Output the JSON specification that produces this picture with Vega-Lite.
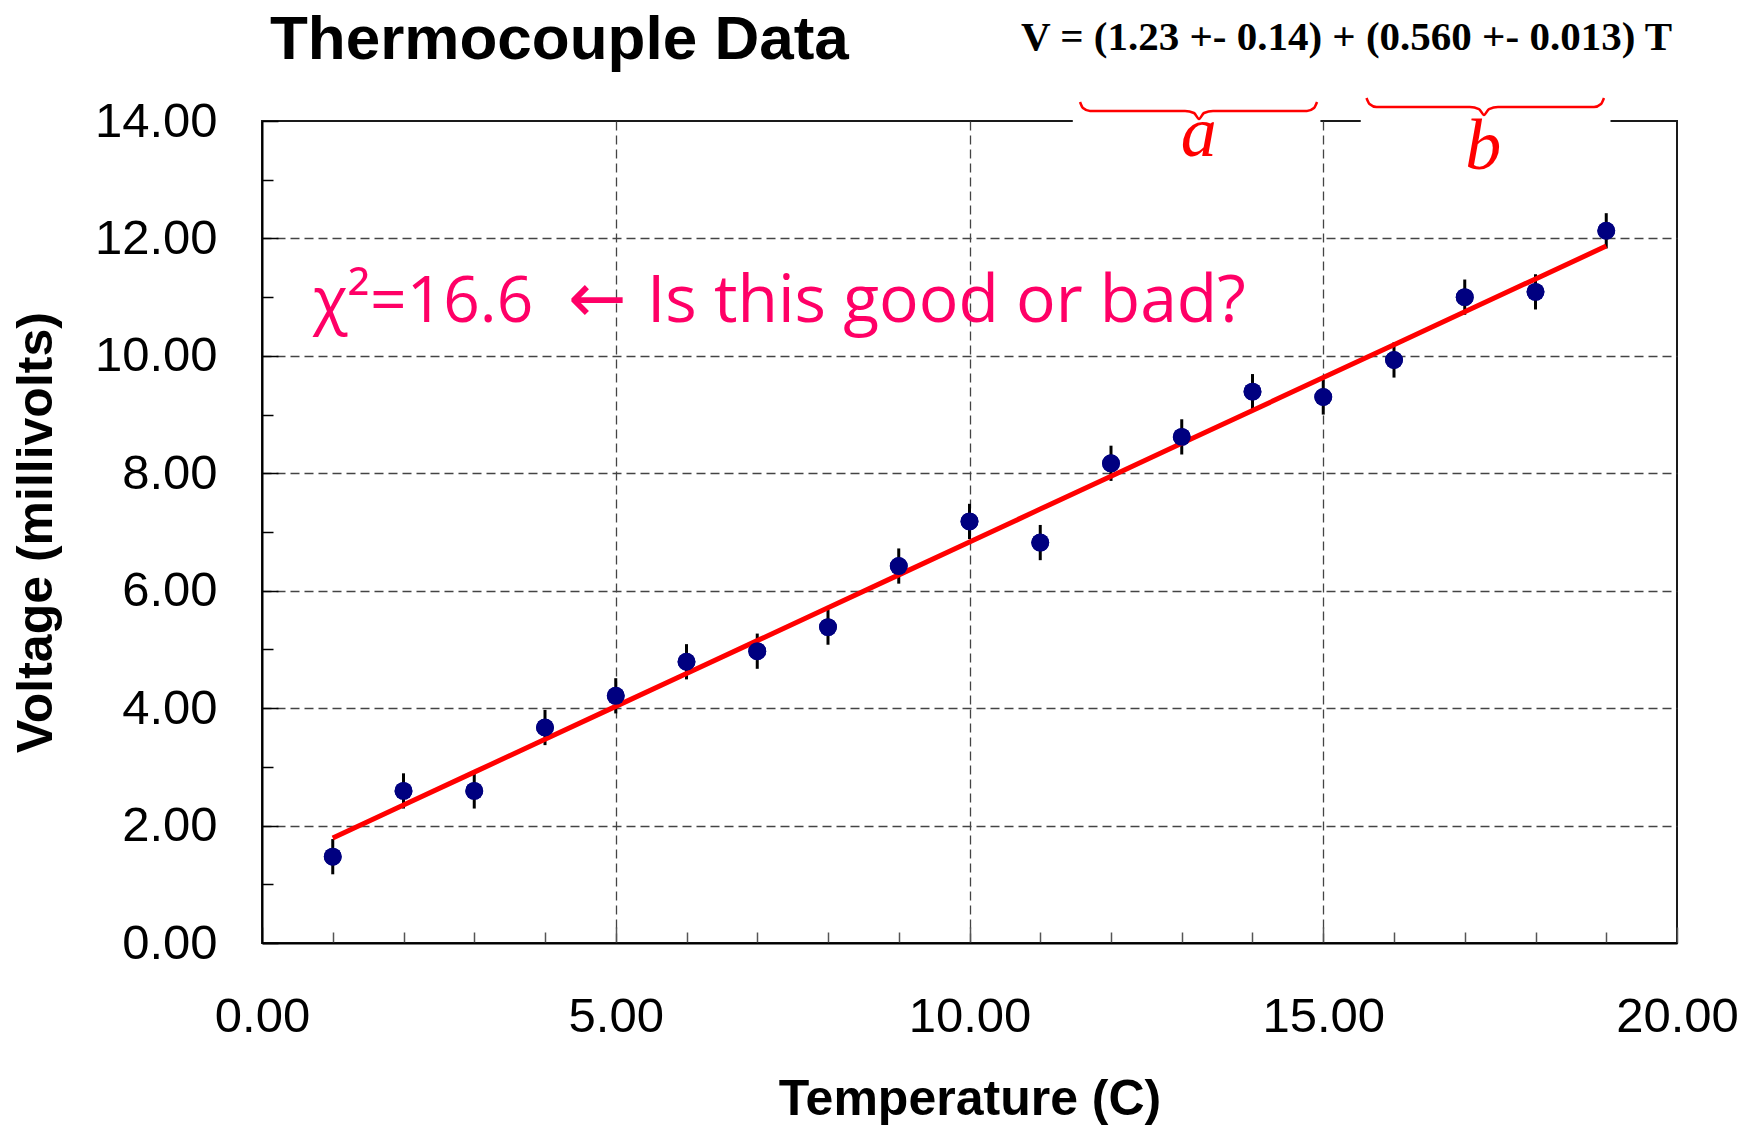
{
  "$schema": "https://vega.github.io/schema/vega-lite/v6.json",
  "width": 1415,
  "height": 822,
  "autosize": {"type": "none"},
  "padding": {"left": 262, "top": 121, "right": 86, "bottom": 183},
  "background": "white",
  "config": {
    "font": "Liberation Sans",
    "view": {"stroke": "#1a1a1a", "strokeWidth": 2}
  },
  "datasets": {
    "points": [
      {"T": 1, "V": 1.47, "err": 0.3},
      {"T": 2, "V": 2.59, "err": 0.3},
      {"T": 3, "V": 2.59, "err": 0.3},
      {"T": 4, "V": 3.67, "err": 0.3},
      {"T": 5, "V": 4.21, "err": 0.3},
      {"T": 6, "V": 4.79, "err": 0.3},
      {"T": 7, "V": 4.97, "err": 0.3},
      {"T": 8, "V": 5.38, "err": 0.3},
      {"T": 9, "V": 6.42, "err": 0.3},
      {"T": 10, "V": 7.18, "err": 0.3},
      {"T": 11, "V": 6.82, "err": 0.3},
      {"T": 12, "V": 8.17, "err": 0.3},
      {"T": 13, "V": 8.62, "err": 0.3},
      {"T": 14, "V": 9.39, "err": 0.3},
      {"T": 15, "V": 9.30, "err": 0.3},
      {"T": 16, "V": 9.93, "err": 0.3},
      {"T": 17, "V": 11.00, "err": 0.3},
      {"T": 18, "V": 11.09, "err": 0.3},
      {"T": 19, "V": 12.13, "err": 0.3}
    ],
    "fit": [
      {"T": 1, "V": 1.79}, {"T": 2, "V": 2.35}, {"T": 3, "V": 2.91}, {"T": 4, "V": 3.47},
      {"T": 5, "V": 4.03}, {"T": 6, "V": 4.59}, {"T": 7, "V": 5.15}, {"T": 8, "V": 5.71},
      {"T": 9, "V": 6.27}, {"T": 10, "V": 6.83}, {"T": 11, "V": 7.39}, {"T": 12, "V": 7.95},
      {"T": 13, "V": 8.51}, {"T": 14, "V": 9.07}, {"T": 15, "V": 9.63}, {"T": 16, "V": 10.19},
      {"T": 17, "V": 10.75}, {"T": 18, "V": 11.31}, {"T": 19, "V": 11.87}
    ],
    "braces": [
      {"brace": "a", "i": 0, "T": 11.562, "V": 14.324},
      {"brace": "a", "i": 1, "T": 11.604, "V": 14.221},
      {"brace": "a", "i": 2, "T": 11.703, "V": 14.170},
      {"brace": "a", "i": 3, "T": 13.046, "V": 14.170},
      {"brace": "a", "i": 4, "T": 13.173, "V": 14.136},
      {"brace": "a", "i": 5, "T": 13.244, "V": 14.034},
      {"brace": "a", "i": 6, "T": 13.314, "V": 14.136},
      {"brace": "a", "i": 7, "T": 13.442, "V": 14.170},
      {"brace": "a", "i": 8, "T": 14.770, "V": 14.170},
      {"brace": "a", "i": 9, "T": 14.869, "V": 14.221},
      {"brace": "a", "i": 10, "T": 14.912, "V": 14.324},
      {"brace": "b", "i": 0, "T": 15.611, "V": 14.392},
      {"brace": "b", "i": 1, "T": 15.654, "V": 14.290},
      {"brace": "b", "i": 2, "T": 15.753, "V": 14.238},
      {"brace": "b", "i": 3, "T": 17.074, "V": 14.238},
      {"brace": "b", "i": 4, "T": 17.201, "V": 14.204},
      {"brace": "b", "i": 5, "T": 17.272, "V": 14.102},
      {"brace": "b", "i": 6, "T": 17.343, "V": 14.204},
      {"brace": "b", "i": 7, "T": 17.470, "V": 14.238},
      {"brace": "b", "i": 8, "T": 18.827, "V": 14.238},
      {"brace": "b", "i": 9, "T": 18.926, "V": 14.290},
      {"brace": "b", "i": 10, "T": 18.968, "V": 14.392}
    ]
  },
  "layer": [
    {
      "data": {"name": "points"},
      "mark": {"type": "point", "filled": true, "shape": "circle", "color": "#000080", "opacity": 1, "size": 320},
      "encoding": {
        "x": {
          "field": "T",
          "type": "quantitative",
          "title": "Temperature (C)",
          "scale": {"domain": [0, 20], "nice": false, "zero": false},
          "axis": {
            "titleFont": "Liberation Sans",
            "titleFontSize": 50,
            "titleFontWeight": "bold",
            "titleColor": "black",
            "titlePadding": 28,
            "values": [0,1,2,3,4,5,6,7,8,9,10,11,12,13,14,15,16,17,18,19,20],
            "labelExpr": "datum.value % 5 === 0 ? format(datum.value, '.2f') : ''",
            "labelFont": "Liberation Sans",
            "labelFontSize": 49,
            "labelColor": "black",
            "labelPadding": 65,
            "labelFlush": false,
            "labelBound": false,
            "labelOverlap": false,
            "domainColor": "black",
            "domainWidth": 2,
            "tickColor": "#555555",
            "tickWidth": 1.5,
            "tickSize": {"condition": {"test": "datum.value % 5 === 0", "value": -16}, "value": -11},
            "grid": true,
            "gridColor": "#444444",
            "gridWidth": 1.3,
            "gridDash": [9, 5],
            "gridOpacity": {"condition": {"test": "datum.value % 5 === 0 && datum.value > 0 && datum.value < 20", "value": 1}, "value": 0}
          }
        },
        "y": {
          "field": "V",
          "type": "quantitative",
          "title": "Voltage (millivolts)",
          "scale": {"domain": [0, 14], "nice": false, "zero": false},
          "axis": {
            "titleFont": "Liberation Sans",
            "titleFontSize": 50,
            "titleFontWeight": "bold",
            "titleColor": "black",
            "titlePadding": 33,
            "values": [0,0.5,1,1.5,2,2.5,3,3.5,4,4.5,5,5.5,6,6.5,7,7.5,8,8.5,9,9.5,10,10.5,11,11.5,12,12.5,13,13.5,14],
            "labelExpr": "datum.value % 2 === 0 ? format(datum.value, '.2f') : ''",
            "labelFont": "Liberation Sans",
            "labelFontSize": 49,
            "labelColor": "black",
            "labelPadding": 61,
            "labelFlush": false,
            "labelBound": false,
            "labelOverlap": false,
            "domainColor": "black",
            "domainWidth": 2,
            "tickColor": "black",
            "tickWidth": 1.5,
            "tickSize": {"condition": {"test": "datum.value % 2 === 0", "value": -16}, "value": -11},
            "grid": true,
            "gridColor": "#444444",
            "gridWidth": 1.3,
            "gridDash": [9, 5],
            "gridOpacity": {"condition": {"test": "datum.value % 2 === 0 && datum.value > 0 && datum.value < 14", "value": 1}, "value": 0}
          }
        }
      }
    },
    {
      "data": {"values": [{"k": 1}]},
      "mark": {"type": "rect", "color": "white", "clip": false},
      "encoding": {
        "x": {"datum": 11.46, "type": "quantitative", "title": "Temperature (C)"}, "x2": {"datum": 14.96},
        "y": {"datum": 13.95, "type": "quantitative", "title": "Voltage (millivolts)"}, "y2": {"datum": 14.05}
      }
    },
    {
      "data": {"values": [{"k": 2}]},
      "mark": {"type": "rect", "color": "white", "clip": false},
      "encoding": {
        "x": {"datum": 15.53, "type": "quantitative", "title": "Temperature (C)"}, "x2": {"datum": 19.06},
        "y": {"datum": 13.95, "type": "quantitative", "title": "Voltage (millivolts)"}, "y2": {"datum": 14.05}
      }
    },
    {
      "data": {"name": "points"},
      "mark": {"type": "errorbar", "ticks": false, "thickness": 3, "color": "black"},
      "encoding": {
        "x": {"field": "T", "type": "quantitative", "title": "Temperature (C)"},
        "y": {"field": "V", "type": "quantitative", "title": "Voltage (millivolts)"},
        "yError": {"field": "err"}
      }
    },
    {
      "data": {"name": "fit"},
      "mark": {"type": "line", "color": "#FF0000", "strokeWidth": 5},
      "encoding": {
        "x": {"field": "T", "type": "quantitative", "title": "Temperature (C)"},
        "y": {"field": "V", "type": "quantitative", "title": "Voltage (millivolts)"}
      }
    },
    {
      "data": {"name": "points"},
      "mark": {"type": "point", "filled": true, "shape": "circle", "color": "#000080", "opacity": 1, "size": 320},
      "encoding": {
        "x": {"field": "T", "type": "quantitative", "title": "Temperature (C)"},
        "y": {"field": "V", "type": "quantitative", "title": "Voltage (millivolts)"}
      }
    },
    {
      "data": {"name": "braces"},
      "mark": {"type": "line", "color": "#FF0000", "strokeWidth": 2.5, "interpolate": "monotone", "clip": false},
      "encoding": {
        "x": {"field": "T", "type": "quantitative", "title": "Temperature (C)"},
        "y": {"field": "V", "type": "quantitative", "title": "Voltage (millivolts)"},
        "detail": {"field": "brace"},
        "order": {"field": "i", "type": "quantitative"}
      }
    },
    {
      "data": {"values": [{"k": 3}]},
      "mark": {"type": "text", "text": "Thermocouple Data", "font": "Liberation Sans", "fontSize": 62, "fontWeight": "bold", "color": "black", "align": "left", "baseline": "alphabetic", "clip": false},
      "encoding": {"x": {"datum": 0.113, "type": "quantitative", "title": "Temperature (C)"}, "y": {"datum": 15.05, "type": "quantitative", "title": "Voltage (millivolts)"}}
    },
    {
      "data": {"values": [{"k": 4}]},
      "mark": {"type": "text", "text": "V = (1.23 +- 0.14) + (0.560 +- 0.013) T", "font": "Liberation Serif", "fontSize": 41, "fontWeight": "bold", "color": "black", "align": "center", "baseline": "alphabetic", "clip": false},
      "encoding": {"x": {"datum": 15.33, "type": "quantitative", "title": "Temperature (C)"}, "y": {"datum": 15.21, "type": "quantitative", "title": "Voltage (millivolts)"}}
    },
    {
      "data": {"values": [{"k": 5}]},
      "mark": {"type": "text", "text": "a", "font": "Liberation Serif", "fontSize": 72, "fontStyle": "italic", "color": "#FF0000", "align": "center", "baseline": "alphabetic", "clip": false},
      "encoding": {"x": {"datum": 13.24, "type": "quantitative", "title": "Temperature (C)"}, "y": {"datum": 13.40, "type": "quantitative", "title": "Voltage (millivolts)"}}
    },
    {
      "data": {"values": [{"k": 6}]},
      "mark": {"type": "text", "text": "b", "font": "Liberation Serif", "fontSize": 72, "fontStyle": "italic", "color": "#FF0000", "align": "center", "baseline": "alphabetic", "clip": false},
      "encoding": {"x": {"datum": 17.26, "type": "quantitative", "title": "Temperature (C)"}, "y": {"datum": 13.18, "type": "quantitative", "title": "Voltage (millivolts)"}}
    },
    {
      "data": {"values": [{"k": 7}]},
      "mark": {"type": "text", "text": "χ²=16.6", "font": "Open Sans", "fontSize": 64, "color": "#FF0066", "align": "left", "baseline": "alphabetic", "clip": false},
      "encoding": {"x": {"datum": 0.72, "type": "quantitative", "title": "Temperature (C)"}, "y": {"datum": 10.58, "type": "quantitative", "title": "Voltage (millivolts)"}}
    },
    {
      "data": {"values": [{"k": 8}]},
      "mark": {"type": "text", "text": "←", "font": "DejaVu Sans", "fontSize": 70, "color": "#FF0066", "align": "center", "baseline": "alphabetic", "clip": false},
      "encoding": {"x": {"datum": 4.735, "type": "quantitative", "title": "Temperature (C)"}, "y": {"datum": 10.58, "type": "quantitative", "title": "Voltage (millivolts)"}}
    },
    {
      "data": {"values": [{"k": 9}]},
      "mark": {"type": "text", "text": "Is this good or bad?", "font": "Open Sans", "fontSize": 66, "color": "#FF0066", "align": "left", "baseline": "alphabetic", "clip": false},
      "encoding": {"x": {"datum": 5.44, "type": "quantitative", "title": "Temperature (C)"}, "y": {"datum": 10.58, "type": "quantitative", "title": "Voltage (millivolts)"}}
    }
  ]
}
